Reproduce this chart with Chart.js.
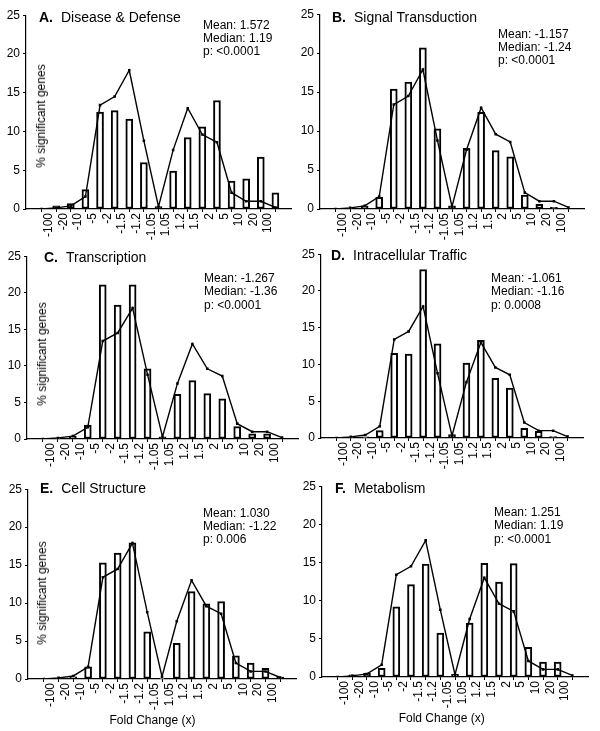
<!DOCTYPE html>
<html><head><meta charset="utf-8">
<script src="https://cdn.jsdelivr.net/npm/chart.js@4.4.1/dist/chart.umd.min.js"></script>
<style>
html,body{margin:0;padding:0;background:#fff;}
body{width:600px;height:731px;position:relative;overflow:hidden;font-family:"Liberation Sans",Arial,sans-serif;color:#000;}
canvas{position:absolute;}
.t{position:absolute;font-size:14px;line-height:14px;white-space:nowrap;}
.t b{margin-right:8px;}
.s{position:absolute;font-size:12px;line-height:13.4px;white-space:pre;}
.yt{position:absolute;font-size:12px;line-height:12px;white-space:nowrap;transform:translate(-50%,-50%) rotate(-90deg);}
.xt{position:absolute;font-size:12px;line-height:12px;white-space:nowrap;transform:translate(-50%,-50%);}
</style></head><body>
<script>
// ---------- data ----------
const xTickLabels = ["-100","-20","-10","-5","-2","-1.5","-1.2","-1.05","1.05","1.2","1.5","2","5","10","20","100"];
const overallLine = [0, 0.15, 0.4, 1.6, 13.4, 14.5, 17.9, 8.8, 0.3, 7.6, 13.0, 9.6, 8.6, 2.1, 1.0, 1.0, 0.2];
const barsA = [0, 0.4, 0.7, 2.5, 12.5, 12.7, 11.6, 6.0, 0.3, 4.9, 9.2, 10.6, 14.0, 3.6, 3.9, 6.7, 2.1];
const barsB = [0, 0.1, 0.4, 1.5, 15.4, 16.3, 20.7, 10.3, 0.4, 7.8, 12.4, 7.5, 6.7, 1.8, 0.6, 0.2, 0];
const barsC = [0, 0.1, 0.35, 1.9, 21.1, 18.3, 21.1, 9.6, 0.3, 6.1, 8.0, 6.2, 5.5, 1.7, 0.7, 0.7, 0];
const barsD = [0, 0.1, 0.15, 1.0, 11.5, 11.4, 22.9, 12.8, 0.45, 10.2, 13.3, 8.1, 6.8, 1.3, 0.9, 0.2, 0];
const barsE = [0, 0.1, 0.3, 1.6, 15.3, 16.6, 17.95, 6.2, 0.1, 4.7, 11.5, 9.9, 10.2, 3.05, 2.1, 1.4, 0.25];
const barsF = [0, 0.3, 0.5, 1.15, 9.2, 12.1, 14.8, 5.75, 0.35, 7.05, 14.9, 12.45, 14.85, 3.9, 1.95, 1.95, 0];
const panelLetters = ["A.","B.","C.","D.","E.","F."];
const panelNames = ["Disease & Defense","Signal Transduction","Transcription","Intracellular Traffic","Cell Structure","Metabolism"];
const meanTexts = ["1.572","-1.157","-1.267","-1.061","1.030","1.251"];
const medianTexts = ["1.19","-1.24","-1.36","-1.16","-1.22","1.19"];
const pTexts = ["<0.0001","<0.0001","<0.0001","0.0008","0.006","<0.0001"];
const yTitle = "% significant genes";
const xTitle = "Fold Change (x)";
const yMax = 25, yStep = 5;

// ---------- layout (positions only) ----------
const panelBars = [barsA, barsB, barsC, barsD, barsE, barsF];
const areas = [
  {l:26, r:291, t:13, b:209},
  {l:320, r:584, t:12, b:209},
  {l:27, r:298, t:254, b:439},
  {l:321, r:583, t:252, b:438},
  {l:28, r:296, t:487, b:679},
  {l:322, r:588, t:484, b:677}
];
const titlePos = [[39,10],[332,10],[44,250],[331,247.5],[40,480.5],[335,480.5]];
const statPos = [[203,18.5],[498,27.5],[204,272],[491,272],[203,506.5],[494,506]];
const yTitlePos = [[41,116],null,[42,354],null,[42,593],null];
const xTitlePos = [null,null,null,null,[152.5,720],[441.7,718]];

Chart.defaults.font.family = '"Liberation Sans", Arial, sans-serif';
Chart.defaults.font.size = 12;
Chart.defaults.color = '#000';

const YW = 26, PT = 8, PR = 6, XH = 42;

function addDiv(cls, x, y, html){
  const d = document.createElement('div');
  d.className = cls; d.style.left = x + 'px'; d.style.top = y + 'px';
  d.innerHTML = html; document.body.appendChild(d); return d;
}
function esc(s){return s.replace(/&/g,'&amp;').replace(/</g,'&lt;');}

panelBars.forEach((bars, i) => {
  const a = areas[i];
  const cl = a.l - YW, ct = a.t - PT;
  const cw = a.r + PR - cl, ch = a.b + XH - ct;
  const cv = document.createElement('canvas');
  cv.width = cw; cv.height = ch;
  cv.style.left = cl + 'px'; cv.style.top = ct + 'px';
  cv.style.width = cw + 'px'; cv.style.height = ch + 'px';
  document.body.appendChild(cv);

  new Chart(cv, {
    data: {
      datasets: [
        {
          type: 'line', order: 0,
          data: overallLine.map((v, k) => ({x: k, y: v})),
          borderColor: '#000', borderWidth: 1.4, tension: 0,
          pointStyle: 'rect', pointRadius: 1.8, pointBackgroundColor: '#000', pointBorderWidth: 0
        },
        {
          type: 'bar', order: 1,
          data: bars.map((v, k) => ({x: k, y: v})),
          backgroundColor: '#fff', borderColor: '#000', borderWidth: 2,
          borderSkipped: false, barThickness: 7
        }
      ]
    },
    options: {
      responsive: false, animation: false, events: [],
      layout: {padding: {left: 0, top: PT, right: PR, bottom: 0}},
      plugins: {legend: {display: false}, tooltip: {enabled: false}},
      scales: {
        x: {
          type: 'linear', min: -0.5, max: bars.length - 0.5,
          afterBuildTicks: s => { s.ticks = xTickLabels.map((_, k) => ({value: k + 0.5})); },
          afterFit: s => { s.height = XH; },
          ticks: {autoSkip: false, minRotation: 90, maxRotation: 90, padding: 1,
                  font: {size: 12}, callback: (v, k) => xTickLabels[k]},
          grid: {drawOnChartArea: false, drawTicks: true, tickLength: 3, color: '#000'},
          border: {display: true, color: '#000', width: 1.2}
        },
        y: {
          type: 'linear', min: 0, max: yMax,
          afterFit: s => { s.width = YW; },
          ticks: {stepSize: yStep, padding: 3, font: {size: 12}},
          grid: {drawOnChartArea: false, drawTicks: true, tickLength: 3, color: '#000'},
          border: {display: true, color: '#000', width: 1.2}
        }
      }
    }
  });

  addDiv('t', titlePos[i][0], titlePos[i][1], '<b>' + panelLetters[i] + '</b>' + esc(panelNames[i]));
  addDiv('s', statPos[i][0], statPos[i][1],
    'Mean: ' + esc(meanTexts[i]) + '\nMedian: ' + esc(medianTexts[i]) + '\np: ' + esc(pTexts[i]));
  if (yTitlePos[i]) addDiv('yt', yTitlePos[i][0], yTitlePos[i][1], esc(yTitle));
  if (xTitlePos[i]) addDiv('xt', xTitlePos[i][0], xTitlePos[i][1], esc(xTitle));
});
</script>
</body></html>
